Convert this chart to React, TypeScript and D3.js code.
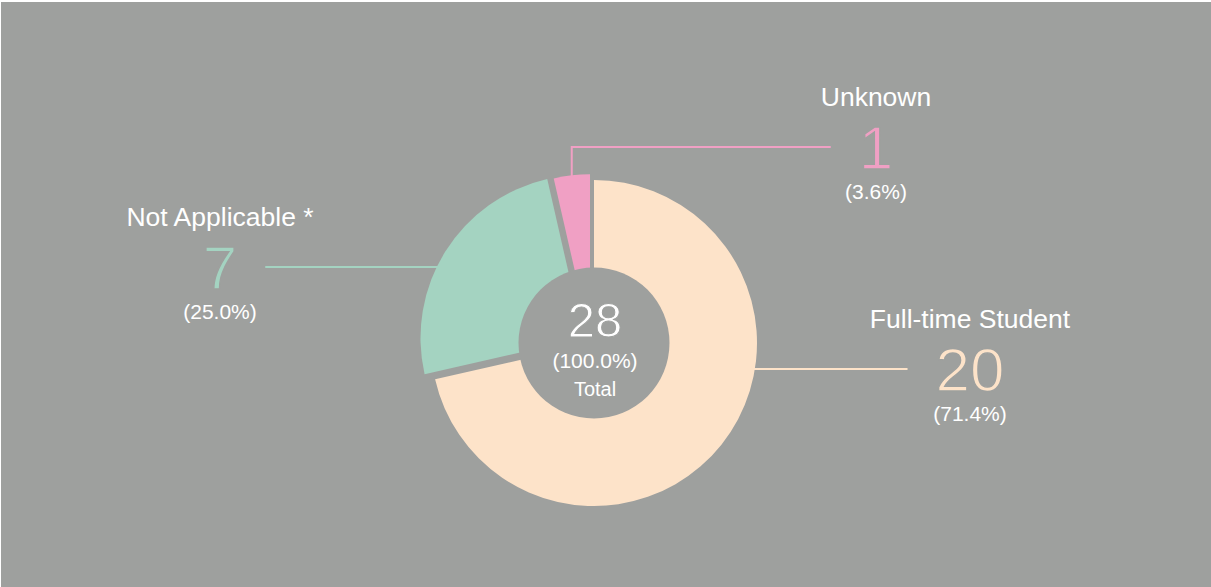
import React, { useEffect, useRef } from "react";
import * as d3 from "d3";

const categories = ["Full-time Student", "Not Applicable *", "Unknown"];
const counts = [20, 7, 1];
const totalLabel = "Total";

// styling
const colors = ["#fde3c9", "#a4d3c1", "#f0a0c4"];
const bg = "#9ea09e";
const sliceShift = [
  [0, 0],
  [-10.5, -5],
  [-4, -5.7],
];
const labelPos = [
  { x: 970, y: 328, side: "right" },
  { x: 220, y: 226, side: "left" },
  { x: 876, y: 106, side: "right" },
];

const W = 1211;
const H = 587;

const App = () => {
  const svgRef = useRef<SVGSVGElement>(null);

  useEffect(() => {
    const svg = d3.select(svgRef.current);
    svg.selectAll("*").remove();

    const cx = 594;
    const cy = 343;
    const R = 163;
    const holeR = 75.5;
    const font = "'Liberation Sans', Arial, Helvetica, sans-serif";

    svg.append("rect").attr("width", W).attr("height", H).attr("fill", "#fff");
    svg.append("rect").attr("x", 1).attr("y", 2).attr("width", W - 1).attr("height", H - 2).attr("fill", bg);

    const data = categories.map((c, i) => ({ label: c, value: counts[i], i }));
    const total = d3.sum(counts);

    const pie = d3.pie<any>().sort(null).value((d) => d.value);
    const arcs = pie(data);
    const arc = d3.arc<any>().innerRadius(0).outerRadius(R);

    const g = svg.append("g").attr("transform", `translate(${cx},${cy})`);

    g.selectAll("path.slice")
      .data(arcs)
      .enter()
      .append("path")
      .attr("class", "slice")
      .attr("d", arc)
      .attr("fill", (d) => colors[d.data.i])
      .attr("transform", (d) => `translate(${sliceShift[d.data.i][0]},${sliceShift[d.data.i][1]})`);

    g.append("circle").attr("r", holeR).attr("fill", bg);

    // centre text
    g.append("text")
      .attr("x", 1)
      .attr("y", -6)
      .attr("text-anchor", "middle")
      .attr("font-family", font)
      .attr("font-size", 49)
      .attr("fill", "#fff")
      .attr("stroke", bg)
      .attr("stroke-width", 1)
      .text(total);
    g.append("text")
      .attr("x", 1)
      .attr("y", 25)
      .attr("text-anchor", "middle")
      .attr("font-family", font)
      .attr("font-size", 21)
      .attr("fill", "#fff")
      .text(`(${(100).toFixed(1)}%)`);
    g.append("text")
      .attr("x", 1)
      .attr("y", 53)
      .attr("text-anchor", "middle")
      .attr("font-family", font)
      .attr("font-size", 20)
      .attr("fill", "#fff")
      .text(totalLabel);

    // labels + leader lines
    arcs.forEach((a) => {
      const i = a.data.i;
      const p = labelPos[i];
      const col = colors[i];
      const lg = svg.append("g");

      lg.append("text")
        .attr("x", p.x)
        .attr("y", p.y)
        .attr("text-anchor", "middle")
        .attr("font-family", font)
        .attr("font-size", 26.5)
        .attr("fill", "#fff")
        .text(a.data.label);

      const num = lg.append("text")
        .attr("x", p.x)
        .attr("y", p.y + 63)
        .attr("text-anchor", "middle")
        .attr("font-family", font)
        .attr("font-size", 62)
        .attr("fill", col)
        .attr("stroke", bg)
        .attr("stroke-width", 1.4)
        .text(a.data.value);

      lg.append("text")
        .attr("x", p.x)
        .attr("y", p.y + 93)
        .attr("text-anchor", "middle")
        .attr("font-family", font)
        .attr("font-size", 21)
        .attr("fill", "#fff")
        .text(`(${((a.data.value / total) * 100).toFixed(1)}%)`);

      const bb = (num.node() as SVGTextElement).getBBox();
      const ly = p.y + 41;
      const scx = cx + sliceShift[i][0];
      const scy = cy + sliceShift[i][1];
      const mid = (a.startAngle + a.endAngle) / 2;
      const gap = 28;

      let pts: [number, number][];
      if (Math.abs(ly - scy) < R && i !== 2) {
        const dx = Math.sqrt(R * R - (ly - scy) * (ly - scy));
        if (p.side === "right") {
          pts = [[scx + dx - 2, ly], [bb.x - gap, ly]];
        } else {
          pts = [[bb.x + bb.width + gap, ly], [scx - dx + 2, ly]];
        }
      } else {
        const ox = scx + Math.sin(mid) * R;
        const oy = scy - Math.cos(mid) * R;
        pts = [[ox, oy + 2], [ox, ly], [bb.x - gap, ly]];
      }

      lg.append("path")
        .attr("d", d3.line()(pts))
        .attr("fill", "none")
        .attr("stroke", col)
        .attr("stroke-width", 2);
    });
  }, []);

  return (
    <svg
      ref={svgRef}
      width={W}
      height={H}
      style={{ position: "absolute", left: 0, top: 0, display: "block" }}
    />
  );
};

export default App;
